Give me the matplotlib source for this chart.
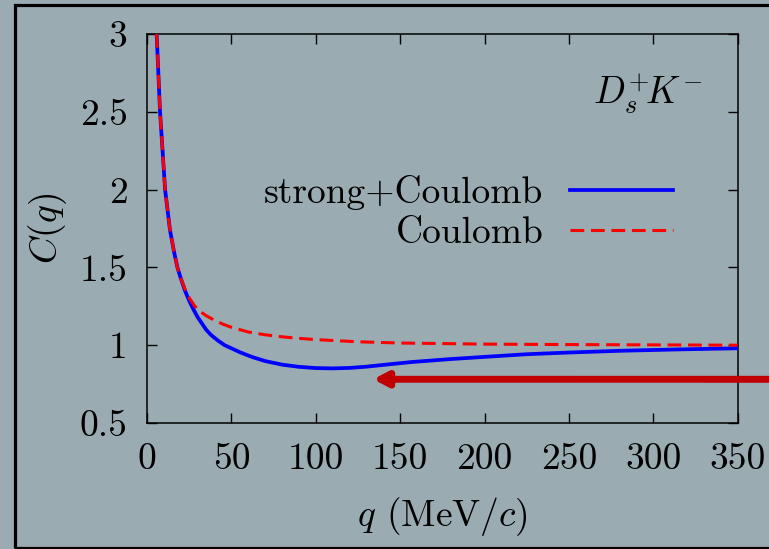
import numpy as np
import matplotlib
matplotlib.use("Agg")
import matplotlib.pyplot as plt
from matplotlib.patches import Rectangle

# correlation function C(q)
q_full = [5.7, 7.7, 10.7, 13.6, 16, 18, 20, 22.5, 25, 27.5, 30, 32.5, 35, 38, 42, 46,
          50, 55, 62, 70, 80, 90, 100, 110, 120, 130, 145, 157, 180, 200, 225, 250,
          280, 315, 350]
c_full = [3.0, 2.5, 2.0, 1.74, 1.6, 1.5, 1.43, 1.35, 1.285, 1.23, 1.18, 1.14, 1.10,
          1.065, 1.03, 1.0, 0.98, 0.955, 0.925, 0.898, 0.875, 0.861, 0.853, 0.851,
          0.854, 0.862, 0.879, 0.892, 0.911, 0.925, 0.942, 0.953, 0.964, 0.973, 0.98]

q_coul = [5.7, 7.7, 10.7, 13.6, 16, 18, 20, 22.5, 25, 28, 31, 35, 40, 45, 50, 60,
          70, 80, 90, 100, 125, 150, 200, 250, 300, 350]
c_coul = [3.0, 2.5, 2.0, 1.74, 1.6, 1.5, 1.43, 1.36, 1.305, 1.255, 1.22, 1.19,
          1.16, 1.135, 1.115, 1.085, 1.067, 1.054, 1.044, 1.036, 1.022, 1.014,
          1.007, 1.004, 1.002, 1.0]

xticks = [0, 50, 100, 150, 200, 250, 300, 350]
yticks = [0.5, 1, 1.5, 2, 2.5, 3]
ytick_labels = ["0.5", "1", "1.5", "2", "2.5", "3"]

bg = "#9aacb2"
fs = 27
plt.rcParams["font.family"] = "cmr10"
plt.rcParams["mathtext.fontset"] = "cm"
plt.rcParams["axes.unicode_minus"] = False

fig = plt.figure(figsize=(7.69, 5.49), dpi=100, facecolor=bg)
ax = fig.add_axes([0.1912, 0.2295, 0.7681, 0.7086], facecolor=bg)

ax.plot(q_full, c_full, color="#0000ff", lw=2.7, label="strong+Coulomb", zorder=3)
ax.plot(q_coul, c_coul, color="#ff0000", lw=2.2, dashes=(4.5, 2.2),
        label="Coulomb", zorder=4)

ax.set_xlim(0, 350)
ax.set_ylim(0.5, 3)
ax.set_xticks(xticks)
ax.set_xticklabels([str(v) for v in xticks])
ax.set_yticks(yticks)
ax.set_yticklabels(ytick_labels)
ax.tick_params(direction="in", length=7, width=1.0, top=True, right=True,
               labelsize=fs, pad=14)
for s in ax.spines.values():
    s.set_linewidth(1.1)

ax.set_xlabel(r"$q$ (MeV$/c$)", fontsize=fs, labelpad=14)
ax.set_ylabel(r"$C(q)$", fontsize=fs, labelpad=8)

ax.text(0.94, 0.82, r"$D_s^{+}\!K^{-}$", transform=ax.transAxes, fontsize=fs,
        ha="right", va="baseline")

leg = ax.legend(loc="upper right", bbox_to_anchor=(0.89, 0.637), frameon=False,
                markerfirst=False, fontsize=fs, handlelength=2.75,
                handletextpad=0.7, labelspacing=0.17, borderpad=0, borderaxespad=0)

# arrow coming in from the right edge of the figure
ax.annotate("", xy=(134, 0.781), xycoords="data",
            xytext=(1.005, 1 - 379.3 / 549), textcoords="figure fraction",
            arrowprops=dict(arrowstyle="-|>,head_length=0.8,head_width=0.42",
                            color="#c00000", lw=5, shrinkA=0, shrinkB=0),
            annotation_clip=False, zorder=5)

# outer frame, open on the right
fig.patches.append(Rectangle((15 / 769, 1.5 / 549), 1.2, 1 - 6.5 / 549,
                             transform=fig.transFigure, fill=False,
                             edgecolor="black", lw=2.3))

fig.savefig("out.png", dpi=100, facecolor=bg)
